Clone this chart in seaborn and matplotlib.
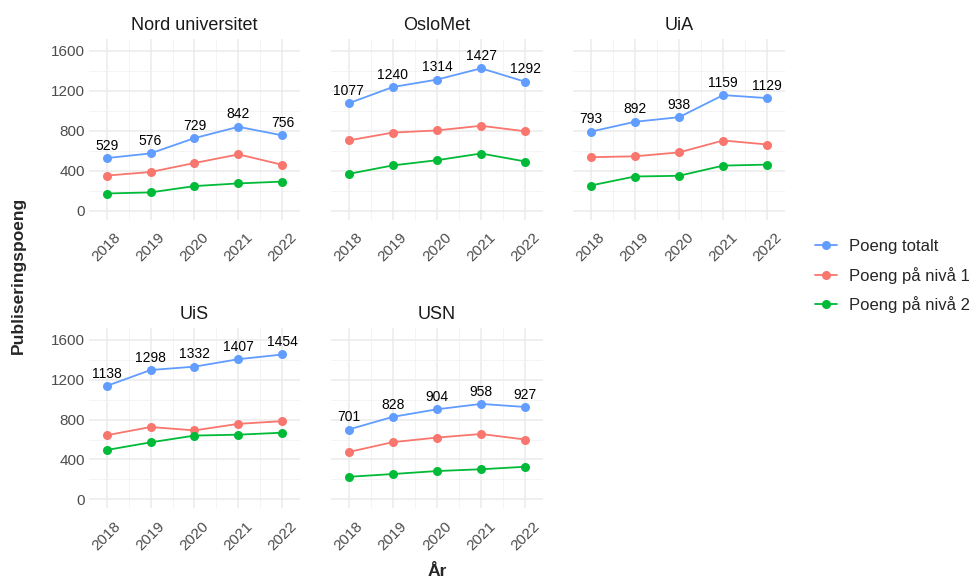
import pandas as pd
import matplotlib.pyplot as plt
import seaborn as sns
from matplotlib.ticker import MultipleLocator

# Data
years = [2018, 2019, 2020, 2021, 2022]
institutions = ['Nord universitet', 'OsloMet', 'UiA', 'UiS', 'USN']

total = {
    'Nord universitet': [529, 576, 729, 842, 756],
    'OsloMet': [1077, 1240, 1314, 1427, 1292],
    'UiA': [793, 892, 938, 1159, 1129],
    'UiS': [1138, 1298, 1332, 1407, 1454],
    'USN': [701, 828, 904, 958, 927],
}
level1 = {
    'Nord universitet': [354, 390, 480, 566, 462],
    'OsloMet': [706, 784, 806, 852, 797],
    'UiA': [538, 547, 586, 705, 665],
    'UiS': [643, 726, 692, 758, 785],
    'USN': [475, 574, 620, 656, 600],
}
level2 = {
    'Nord universitet': [175, 186, 249, 276, 294],
    'OsloMet': [371, 456, 508, 575, 495],
    'UiA': [255, 345, 352, 454, 464],
    'UiS': [495, 572, 640, 649, 669],
    'USN': [226, 254, 284, 302, 327],
}

series_names = ['Poeng totalt', 'Poeng på nivå 1', 'Poeng på nivå 2']
colors = ['#619CFF', '#F8766D', '#00BA38']

rows = []
for inst in institutions:
    for name, src in zip(series_names, [total, level1, level2]):
        for y, v in zip(years, src[inst]):
            rows.append({'Institusjon': inst, 'År': y, 'Type': name, 'Poeng': v})
df = pd.DataFrame(rows)

sns.set_theme(style='whitegrid')
plt.rcParams['font.family'] = ['Liberation Sans', 'DejaVu Sans']

W, H = 978, 582
fig = plt.figure(figsize=(W / 100, H / 100), dpi=100)

# panel boxes in pixels: (left, right, top, bottom)
col_x = [(89, 300), (331, 543), (573, 785)]
row_y = [(38.5, 219.5), (327.5, 507.8)]

handles, labels = None, None
for i, inst in enumerate(institutions):
    r, c = divmod(i, 3)
    x0, x1 = col_x[c]
    y0, y1 = row_y[r]
    ax = fig.add_axes([x0 / W, 1 - y1 / H, (x1 - x0) / W, (y1 - y0) / H])
    sub = df[df['Institusjon'] == inst]
    sns.lineplot(data=sub, x='År', y='Poeng', hue='Type', hue_order=series_names,
                 palette=colors, marker='o', markersize=6.5, markeredgewidth=0,
                 linewidth=1.3, ax=ax, legend=(i == 0))
    if i == 0:
        handles, labels = ax.get_legend_handles_labels()
        ax.get_legend().remove()

    for y, v in zip(years, total[inst]):
        ax.annotate(str(v), (y, v), xytext=(0, 6), textcoords='offset points',
                    ha='center', va='baseline', fontsize=10, color='black')

    ax.set_xlim(2017.6, 2022.4)
    ax.set_ylim(-85, 1725)
    ax.set_xticks(years)
    ax.set_xticklabels([str(y) for y in years], rotation=45, ha='center', va='top')
    ax.set_yticks([0, 400, 800, 1200, 1600])
    ax.xaxis.set_minor_locator(MultipleLocator(0.5))
    ax.yaxis.set_minor_locator(MultipleLocator(200))
    ax.grid(which='major', color='#EBEBEB', linewidth=1.1)
    ax.grid(which='minor', color='#F2F2F2', linewidth=0.6)
    ax.set_facecolor('white')
    for s in ax.spines.values():
        s.set_visible(False)
    ax.tick_params(axis='both', which='both', length=0, labelsize=11,
                   labelcolor='#4D4D4D', pad=3)
    ax.tick_params(axis='x', pad=8)
    if c != 0:
        ax.set_yticklabels([])
    ax.set_xlabel('')
    ax.set_ylabel('')
    ax.set_title(inst, fontsize=13, color='#1A1A1A', pad=6)

fig.text(18 / W, 1 - 275 / H, 'Publiseringspoeng', rotation=90, ha='center',
         va='center', fontsize=12.5, fontweight='bold')
fig.text(437 / W, 1 - 572 / H, 'År', ha='center', va='center',
         fontsize=12.5, fontweight='bold')

fig.legend(handles, labels, loc='center left', bbox_to_anchor=(812 / W, 1 - 276 / H),
           frameon=False, fontsize=12, handlelength=1.3, labelspacing=0.75,
           handletextpad=0.7, borderaxespad=0, borderpad=0.2)

plt.savefig('out.png', dpi=100)
